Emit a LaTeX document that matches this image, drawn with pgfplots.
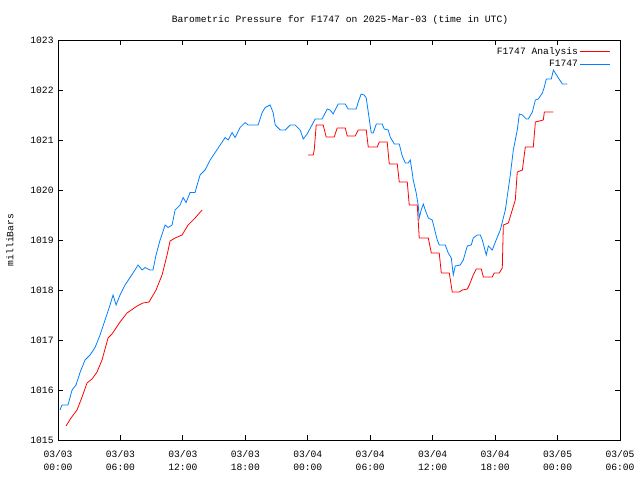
\documentclass[border=0pt]{standalone}
\usepackage{fontspec}
\setmainfont{Liberation Mono}
\usepackage{pgfplots}
\pgfplotsset{compat=1.18}
\definecolor{anared}{RGB}{255,0,0}
\definecolor{obsblue}{RGB}{0,128,255}
\begin{document}
\fontsize{9.7}{11}\selectfont
\begin{tikzpicture}
\begin{axis}[
  at={(58bp,40bp)}, anchor=south west,
  scale only axis, width=562bp, height=400bp,
  xmin=0, xmax=54, ymin=1015, ymax=1023,
  xtick={0,6,...,54},
  xticklabels={{03/03\\00:00},{03/03\\06:00},{03/03\\12:00},{03/03\\18:00},{03/04\\00:00},{03/04\\06:00},{03/04\\12:00},{03/04\\18:00},{03/05\\00:00},{03/05\\06:00}},
  ytick={1015,1016,...,1023},
  tick align=inside, tick pos=both, major tick length=5bp,
  every tick/.style={black, line width=0.8bp},
  axis line style={line width=0.8bp},
  xticklabel style={align=center, font=\fontsize{9.7}{13}\selectfont, yshift=-7bp},
  yticklabel style={xshift=-1bp},
  /pgf/number format/assume math mode=true,
  /pgf/number format/1000 sep={},
  legend style={draw=none, fill=none, at={(1,1)}, anchor=north east, xshift=-6bp, yshift=-3bp, legend cell align=right, row sep=0.5bp},
  legend plot pos=right,
]
\addplot[color=anared, line width=0.8bp, forget plot] coordinates {
(0.77,1015.28) (1.25,1015.44) (1.83,1015.6) (2.31,1015.86) (2.79,1016.14) (3.27,1016.22) (3.75,1016.36) (4.23,1016.6) (4.81,1017.04) (5.19,1017.12) (5.96,1017.36) (6.63,1017.54) (7.60,1017.68) (8.17,1017.74) (8.75,1017.76) (9.42,1018.0) (10.0,1018.3) (10.48,1018.7) (10.77,1018.98) (11.25,1019.04) (11.92,1019.1) (12.5,1019.3) (13.17,1019.44) (13.85,1019.6)
};
\addplot[color=anared, line width=0.8bp, forget plot] coordinates {
(24.04,1020.7) (24.52,1020.7) (24.62,1020.8) (24.81,1021.3) (25.48,1021.3) (25.77,1021.06) (26.54,1021.06) (26.83,1021.24) (27.60,1021.24) (27.79,1021.08) (28.56,1021.08) (28.85,1021.2) (29.62,1021.2) (29.81,1020.86) (30.67,1020.86) (30.87,1020.96) (31.63,1020.96) (31.83,1020.52) (32.60,1020.52) (32.79,1020.16) (33.56,1020.16) (33.75,1019.7) (34.52,1019.7) (34.71,1019.04) (35.58,1019.04) (35.87,1018.74) (36.63,1018.74) (36.83,1018.34) (37.60,1018.34) (37.88,1017.96) (38.56,1017.96) (38.85,1018.0) (39.33,1018.02) (39.52,1018.1) (39.90,1018.3) (40.19,1018.42) (40.67,1018.42) (40.87,1018.26) (41.73,1018.26) (41.92,1018.34) (42.40,1018.34) (42.69,1018.44) (42.79,1019.3) (43.27,1019.34) (43.94,1019.8) (44.13,1020.36) (44.62,1020.4) (44.90,1020.86) (45.67,1020.86) (45.87,1021.36) (46.63,1021.4) (46.73,1021.56) (47.60,1021.56)
};
\addplot[color=obsblue, line width=0.8bp, forget plot] coordinates {
(0.19,1015.6) (0.38,1015.7) (0.96,1015.7) (1.35,1016.0) (1.73,1016.1) (2.12,1016.35) (2.60,1016.6) (3.08,1016.7) (3.56,1016.85) (4.04,1017.1) (4.52,1017.4) (5.0,1017.7) (5.29,1017.9) (5.58,1017.7) (5.96,1017.9) (6.44,1018.1) (6.92,1018.25) (7.40,1018.4) (7.69,1018.5) (8.08,1018.4) (8.37,1018.45) (8.85,1018.4) (9.13,1018.4) (9.42,1018.7) (9.81,1019.0) (10.29,1019.3) (10.58,1019.25) (10.96,1019.3) (11.25,1019.6) (11.73,1019.7) (12.02,1019.85) (12.31,1019.75) (12.69,1019.95) (13.17,1019.95) (13.37,1020.1) (13.65,1020.3) (14.13,1020.4) (14.62,1020.6) (15.10,1020.75) (15.58,1020.9) (16.06,1021.05) (16.35,1021.0) (16.73,1021.15) (17.02,1021.05) (17.5,1021.25) (17.98,1021.35) (18.27,1021.3) (19.23,1021.3) (19.62,1021.55) (19.90,1021.65) (20.38,1021.7) (20.67,1021.55) (20.87,1021.3) (21.35,1021.2) (21.83,1021.2) (22.31,1021.3) (22.79,1021.3) (23.27,1021.2) (23.56,1021.02) (23.94,1021.12) (24.71,1021.42) (25.38,1021.42) (25.87,1021.62) (26.15,1021.6) (26.44,1021.52) (26.92,1021.72) (27.60,1021.72) (27.88,1021.62) (28.65,1021.62) (28.85,1021.76) (29.13,1021.92) (29.42,1021.9) (29.62,1021.84) (29.81,1021.56) (30.10,1021.14) (30.29,1021.14) (30.58,1021.32) (31.15,1021.32) (31.35,1021.22) (31.73,1021.2) (31.92,1021.06) (32.31,1020.92) (32.79,1020.92) (33.08,1020.68) (33.37,1020.54) (33.65,1020.54) (33.85,1020.6) (34.04,1020.34) (34.13,1020.2) (34.42,1019.94) (34.62,1019.68) (34.71,1019.44) (34.90,1019.6) (35.10,1019.72) (35.29,1019.6) (35.58,1019.44) (35.96,1019.4) (36.15,1019.24) (36.44,1019.0) (36.63,1018.9) (37.21,1018.9) (37.5,1018.74) (37.79,1018.64) (37.98,1018.3) (38.17,1018.48) (38.65,1018.5) (38.94,1018.6) (39.33,1018.88) (39.71,1018.9) (39.90,1019.04) (40.29,1019.1) (40.58,1019.1) (40.77,1019.0) (41.15,1018.7) (41.35,1018.88) (41.73,1018.8) (42.02,1018.96) (42.5,1019.2) (42.98,1019.6) (43.46,1020.3) (43.75,1020.8) (43.94,1021.0) (44.13,1021.2) (44.33,1021.52) (44.62,1021.5) (45.0,1021.42) (45.19,1021.42) (45.58,1021.56) (45.87,1021.8) (46.15,1021.82) (46.54,1021.94) (46.73,1022.06) (46.92,1022.22) (47.40,1022.22) (47.60,1022.4) (48.08,1022.24) (48.46,1022.12) (48.94,1022.12)
};
\addlegendimage{legend image code/.code={\pgfsetstrokecolor{black}\pgfsetstrokecolor{anared}\pgfsetlinewidth{0.8bp}\pgfpathmoveto{\pgfpoint{0bp}{0bp}}\pgfpathlineto{\pgfpoint{30bp}{0bp}}\pgfusepath{stroke}}}
\addlegendentry{F1747 Analysis}
\addlegendimage{legend image code/.code={\pgfsetstrokecolor{black}\pgfsetstrokecolor{obsblue}\pgfsetlinewidth{0.8bp}\pgfpathmoveto{\pgfpoint{0bp}{0bp}}\pgfpathlineto{\pgfpoint{30bp}{0bp}}\pgfusepath{stroke}}}
\addlegendentry{F1747}
\end{axis}
\node at (340bp,460bp) {Barometric Pressure for F1747 on 2025-Mar-03 (time in UTC)};
\node[rotate=90] at (10bp,240bp) {milliBars};
\pgfresetboundingbox
\useasboundingbox (0,0) rectangle (640bp,480bp);
\end{tikzpicture}
\end{document}
